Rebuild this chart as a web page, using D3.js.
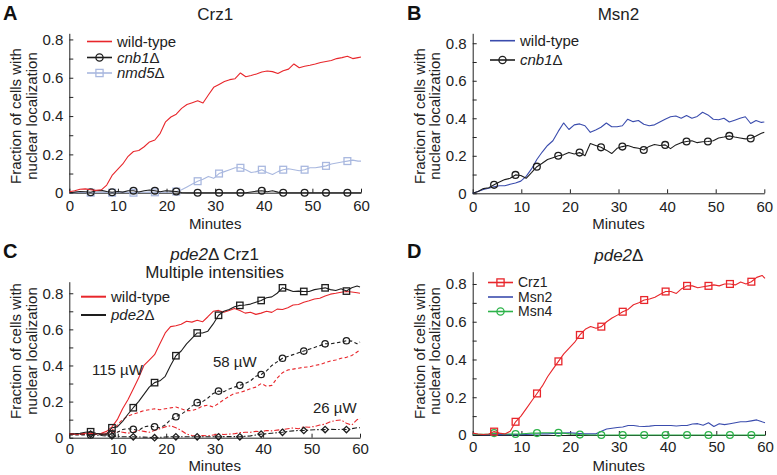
<!DOCTYPE html>
<html>
<head>
<meta charset="utf-8">
<script src="https://cdn.jsdelivr.net/npm/d3@7"></script>
<style>
  html, body { margin: 0; padding: 0; background: #fff; }
  svg { display: block; }
</style>
</head>
<body>
<svg id="chart" width="777" height="475"></svg>
<script>
// ---------- DATA ----------
// time grid (minutes), sampled every 1.1 min, last point at 60
const minutes = [0,1.1,2.2,3.3,4.4,5.5,6.6,7.7,8.8,9.9,11,12.1,13.2,14.3,15.4,16.5,17.6,18.7,19.8,20.9,22,23.1,24.2,25.3,26.4,27.5,28.6,29.7,30.8,31.9,33,34.1,35.2,36.3,37.4,38.5,39.6,40.7,41.8,42.9,44,45.1,46.2,47.3,48.4,49.5,50.6,51.7,52.8,53.9,55,56.1,57.2,58.3,59.4,60];
const xTickValues = [0,10,20,30,40,50,60];
const yTickValues = [0,0.1,0.2,0.3,0.4,0.5,0.6,0.7,0.8];
const yTickLabels = ["0","","0.2","","0.4","","0.6","","0.8"];

// Panel A: Crz1
const aWildType = [0.005,0.01,0.018,0.02, 0.015,0.012,0.015,0.04, 0.09,0.12,0.15,0.19, 0.215,0.22,0.24,0.265, 0.275,0.31,0.37,0.395, 0.41,0.44,0.46,0.47, 0.48,0.468,0.51,0.55, 0.565,0.58,0.59,0.595, 0.625,0.605,0.612,0.62, 0.63,0.635,0.632,0.622, 0.637,0.645,0.672,0.652, 0.66,0.665,0.672,0.68, 0.685,0.69,0.70,0.705, 0.712,0.70,0.705,0.708];
const aCnb1 = [0,0.003,0.006,0.005, 0.002,0.01,0.012,0.006, 0.002,0.006,0.003,0.01, 0.01,0.004,0.01,0.014, 0.01,0.005,0.01,0.008, 0.006,0.001,0,0, 0,0,0,0, 0,0,0,0, 0,0,0.004,0.008, 0.01,0.005,0.01,0.003, 0,0,0,0, 0,0,0,0, 0,0,0,0, 0,0,0,0];
const aNmd5 = [0,0,0.002,0.001, 0,0.002,0.004,0.003, 0,0.002,0.004,0.002, 0,0.003,0.002,0.004, 0.002,0.003,0.002,0.004, 0.006,0.015,0.03,0.045, 0.06,0.07,0.085,0.075, 0.1,0.11,0.12,0.13, 0.13,0.12,0.105,0.11, 0.12,0.105,0.095,0.11, 0.12,0.125,0.12,0.115, 0.12,0.13,0.13,0.135, 0.14,0.15,0.155,0.16, 0.165,0.17,0.165,0.165];

// Panel B: Msn2
const bWildType = [0,0.01,0.02,0.027, 0.035,0.04,0.04,0.048, 0.055,0.065,0.09,0.13, 0.18,0.22,0.255,0.28, 0.33,0.375,0.34,0.365, 0.37,0.36,0.325,0.338, 0.352,0.375,0.355,0.355, 0.36,0.395,0.382,0.388, 0.368,0.36,0.365,0.38, 0.395,0.408,0.412,0.40, 0.415,0.40,0.41,0.432, 0.418,0.395,0.392,0.40, 0.38,0.39,0.40,0.408, 0.372,0.388,0.378,0.38];
const bCnb1 = [0,0.01,0.025,0.03, 0.045,0.06,0.073,0.08, 0.098,0.095,0.08,0.11, 0.142,0.16,0.18,0.19, 0.2,0.205,0.218,0.21, 0.217,0.2,0.265,0.255, 0.245,0.23,0.212,0.24, 0.249,0.255,0.245,0.24, 0.231,0.25,0.26,0.255, 0.258,0.238,0.258,0.27, 0.276,0.28,0.27,0.275, 0.276,0.28,0.295,0.30, 0.306,0.30,0.295,0.29, 0.292,0.305,0.32,0.325];

// Panel C: pde2Δ Crz1, multiple intensities
const cWildType115 = [0.02,0.02,0.022,0.025, 0.025,0.022,0.025,0.035, 0.06,0.1,0.16,0.21, 0.27,0.33,0.40,0.43, 0.46,0.52,0.58,0.615, 0.62,0.628,0.645,0.64, 0.65,0.642,0.67,0.70, 0.705,0.695,0.705,0.715, 0.705,0.69,0.695,0.683, 0.69,0.70,0.694,0.712, 0.71,0.72,0.735,0.738, 0.75,0.758,0.768,0.772, 0.785,0.795,0.80,0.806, 0.81,0.807,0.803,0.80];
const cPde2115 = [0.02,0.022,0.025,0.03, 0.033,0.025,0.02,0.02, 0.055,0.06,0.09,0.13, 0.166,0.2,0.24,0.28, 0.305,0.315,0.34,0.40, 0.454,0.48,0.52,0.55, 0.58,0.58,0.59,0.63, 0.678,0.70,0.71,0.725, 0.733,0.735,0.74,0.75, 0.76,0.775,0.78,0.80, 0.83,0.82,0.81,0.812, 0.81,0.81,0.82,0.825, 0.83,0.82,0.815,0.825, 0.812,0.83,0.84,0.835];
const cWildType58 = [0.02,0.02,0.018,0.02, 0.02,0.018,0.02,0.025, 0.04,0.07,0.1,0.12, 0.13,0.14,0.15,0.155, 0.16,0.155,0.16,0.165, 0.17,0.16,0.15,0.15, 0.16,0.175,0.18,0.17, 0.19,0.21,0.23,0.245, 0.25,0.26,0.272,0.28, 0.30,0.285,0.29,0.33, 0.36,0.375,0.38,0.385, 0.39,0.392,0.40,0.405, 0.415,0.425,0.43,0.44, 0.445,0.455,0.475,0.485];
const cPde258 = [0.015,0.015,0.015,0.015, 0.015,0.02,0.015,0.015, 0.02,0.03,0.045,0.05, 0.046,0.04,0.06,0.065, 0.06,0.055,0.07,0.1, 0.116,0.13,0.15,0.175, 0.194,0.2,0.22,0.245, 0.258,0.255,0.27,0.28, 0.29,0.3,0.315,0.34, 0.35,0.37,0.4,0.42, 0.44,0.45,0.46,0.47, 0.48,0.49,0.5,0.51, 0.52,0.52,0.525,0.53, 0.537,0.535,0.52,0.53];
const cWildType26 = [0.02,0.022,0.02,0.018, 0.02,0.022,0.02,0.02, 0.03,0.035,0.03,0.025, 0.03,0.04,0.035,0.03, 0.04,0.05,0.06,0.066, 0.055,0.04,0.02,0.012, 0.01,0.012,0.01,0.015, 0.02,0.018,0.02,0.022, 0.028,0.03,0.03,0.035, 0.033,0.04,0.038,0.042, 0.045,0.05,0.054,0.05, 0.06,0.058,0.062,0.07, 0.075,0.089,0.095,0.098, 0.08,0.07,0.1,0.108];
const cPde226 = [0.02,0.02,0.02,0.02, 0.02,0.015,0.012,0.01, 0.01,0.008,0.005,0.005, 0.005,0.004,0.003,0.002, 0,0.002,0.004,0.005, 0.005,0.005,0.005,0.005, 0.005,0.005,0.005,0.005, 0.005,0.006,0.006,0.006, 0.005,0.008,0.01,0.015, 0.02,0.022,0.025,0.028, 0.03,0.035,0.038,0.04, 0.04,0.042,0.044,0.045, 0.045,0.046,0.045,0.046, 0.045,0.05,0.055,0.055];

// Panel D: pde2Δ
const dCrz1 = [0.01,0.005,0.003,0.005, 0.018,0.01,0.005,0.02, 0.07,0.1,0.14,0.18, 0.22,0.26,0.31,0.35, 0.39,0.43,0.46,0.49, 0.53,0.56,0.575,0.565, 0.574,0.6,0.62,0.635, 0.653,0.665,0.69,0.70, 0.715,0.72,0.73,0.745, 0.76,0.76,0.75,0.775, 0.79,0.79,0.78,0.785, 0.79,0.795,0.79,0.80, 0.80,0.795,0.81,0.80, 0.812,0.835,0.845,0.83];
const dMsn2 = [0.005,0.003,0.002,0.002, 0.002,0.002,0.003,0.002, 0.002,0.002,0.003,0.004, 0.005,0.006,0.006,0.008, 0.008,0.01,0.012,0.01, 0.008,0.006,0.006,0.006, 0.02,0.032,0.036,0.04, 0.042,0.05,0.05,0.046, 0.045,0.047,0.05,0.05, 0.05,0.05,0.048,0.05, 0.05,0.058,0.06,0.052, 0.065,0.045,0.06,0.055, 0.06,0.065,0.07,0.07, 0.075,0.08,0.07,0.065];
const dMsn4 = [0.005,0.004,0.004,0.005, 0.01,0.008,0.006,0.005, 0.005,0.006,0.008,0.01, 0.01,0.012,0.012,0.012, 0.012,0.01,0.006,0.004, 0.002,0.001,0,0, 0,0,0,0, 0,0,0,0, 0,0,0,0, 0,0,0,0, 0,0,0,0, 0,0,0,0, 0,0,0,0, 0,0,0,0];

// ---------- STYLE ----------
const FONT = "'Liberation Sans', Arial, Helvetica, sans-serif";
const RED = "#e8262b", BLUE = "#3a4cad", GREEN = "#2db34a", LIGHT = "#a9b8df", BLACK = "#1e1e1e";
const AXIS = "#222";

const svg = d3.select("#chart").style("font-family", FONT);
svg.append("rect").attr("width", 777).attr("height", 475).attr("fill", "#fff");

function marker(g, type, cx, cy, color, s) {
  if (type === "circle") {
    g.append("circle").attr("cx", cx).attr("cy", cy).attr("r", s)
      .attr("fill", "none").attr("stroke", color).attr("stroke-width", 1.3);
  } else if (type === "square") {
    g.append("rect").attr("x", cx - s).attr("y", cy - s).attr("width", 2 * s).attr("height", 2 * s)
      .attr("fill", "none").attr("stroke", color).attr("stroke-width", 1.3);
  } else if (type === "diamond") {
    g.append("path").attr("d", `M${cx},${cy - s}L${cx + s},${cy}L${cx},${cy + s}L${cx - s},${cy}Z`)
      .attr("fill", "none").attr("stroke", color).attr("stroke-width", 1.3);
  }
}

function drawPanel(p) {
  const g = svg.append("g");
  const x = d3.scaleLinear().domain([0, 60]).range([p.x0, p.x1]);
  const y = d3.scaleLinear().domain([0, p.ymax]).range([p.y0, p.ytop]);

  const gx = g.append("g").attr("transform", `translate(0,${p.y0})`)
    .call(d3.axisBottom(x).tickValues(xTickValues).tickSizeInner(-4).tickSizeOuter(0)
      .tickPadding(p.xpad).tickFormat(d3.format("d")));
  const gy = g.append("g").attr("transform", `translate(${p.x0},0)`)
    .call(d3.axisLeft(y).tickValues(yTickValues).tickSizeInner(-4).tickSizeOuter(0)
      .tickPadding(6).tickFormat((d, i) => yTickLabels[i]));
  [gx, gy].forEach(a => {
    a.select(".domain").attr("stroke", AXIS);
    a.selectAll(".tick line").attr("stroke", AXIS);
    a.selectAll("text").attr("fill", "#222").style("font-size", "15px").style("font-family", FONT);
  });

  // axis titles
  g.append("text").attr("x", (p.x0 + p.x1) / 2).attr("y", p.xlabelY)
    .attr("text-anchor", "middle").attr("fill", "#222").style("font-size", "15px").text("Minutes");
  const yl = g.append("g").attr("transform", `translate(${p.x0 - 48},${p.ylabelC}) rotate(-90)`);
  yl.append("text").attr("x", 0).attr("y", 0).attr("text-anchor", "middle").attr("fill", "#222")
    .style("font-size", "15px").text("Fraction of cells with");
  yl.append("text").attr("x", 0).attr("y", 15.5).attr("text-anchor", "middle").attr("fill", "#222")
    .style("font-size", "15px").text("nuclear localization");

  // series
  const line = d3.line().x((d, i) => x(minutes[i])).y(d => y(d));
  p.series.forEach(s => {
    g.append("path").datum(s.values).attr("d", line).attr("fill", "none")
      .attr("stroke", s.color).attr("stroke-width", s.width || 1.1)
      .attr("stroke-dasharray", s.dash || null).attr("stroke-linejoin", "round");
    if (s.marker) {
      s.values.forEach((v, i) => {
        if (i > 0 && i < 55 && i % 4 === 0) marker(g, s.marker, x(minutes[i]), y(v), s.mcolor || s.color, p.msize);
      });
    }
  });

  // legend
  p.legend.forEach((l, k) => {
    const ly = p.legY[k];
    g.append("line").attr("x1", p.legX).attr("x2", p.legX + 25).attr("y1", ly).attr("y2", ly)
      .attr("stroke", l.color).attr("stroke-width", l.lw || 1.6);
    if (l.marker) marker(g, l.marker, p.legX + 12.5, ly, l.color, 3.6);
    const t = g.append("text").attr("x", p.legX + 30).attr("y", ly).attr("dy", "0.35em")
      .attr("fill", "#222").style("font-size", (p.legFont || 15) + "px");
    l.label.forEach(part => t.append("tspan").style("font-style", part[1] ? "italic" : "normal").text(part[0]));
  });

  // panel letter
  g.append("text").attr("x", p.letterX).attr("y", p.letterY).attr("fill", "#111")
    .style("font-size", "20px").style("font-weight", "bold").text(p.letter);
  // title
  p.title.forEach(tl => {
    const t = g.append("text").attr("x", (p.x0 + p.x1) / 2).attr("y", tl.y).attr("text-anchor", "middle")
      .attr("fill", "#222").style("font-size", "17px");
    tl.parts.forEach(part => t.append("tspan").style("font-style", part[1] ? "italic" : "normal").text(part[0]));
  });
  (p.notes || []).forEach(n => {
    g.append("text").attr("x", n.x).attr("y", n.y).attr("fill", "#222").style("font-size", "15px").text(n.text);
  });
}

drawPanel({
  letter: "A", letterX: 3, letterY: 20,
  title: [{ y: 20, parts: [["Crz1", false]] }],
  x0: 69.3, x1: 361, y0: 192.7, ytop: 33.3, ymax: 0.832, xpad: 8, xlabelY: 229, ylabelC: 116, msize: 3.4,
  series: [
    { values: aNmd5, color: LIGHT, marker: "square" },
    { values: aCnb1, color: BLACK, marker: "circle" },
    { values: aWildType, color: RED }
  ],
  legX: 87, legY: [41.5, 57.5, 73],
  legend: [
    { color: RED, label: [["wild-type", false]] },
    { color: BLACK, marker: "circle", label: [["cnb1", true], ["Δ", false]] },
    { color: LIGHT, marker: "square", label: [["nmd5", true], ["Δ", false]] }
  ]
});

drawPanel({
  letter: "B", letterX: 407, letterY: 20,
  title: [{ y: 20, parts: [["Msn2", false]] }],
  x0: 472.7, x1: 764.3, y0: 193.3, ytop: 33.3, ymax: 0.853, xpad: 8, xlabelY: 229, ylabelC: 116, msize: 3.4,
  series: [
    { values: bWildType, color: BLUE },
    { values: bCnb1, color: BLACK, marker: "circle" }
  ],
  legX: 490, legY: [40.7, 60],
  legend: [
    { color: BLUE, label: [["wild-type", false]] },
    { color: BLACK, marker: "circle", label: [["cnb1", true], ["Δ", false]] }
  ]
});

drawPanel({
  letter: "C", letterX: 3, letterY: 258,
  title: [{ y: 260, parts: [["pde2", true], ["Δ Crz1", false]] }, { y: 278, parts: [["Multiple intensities", false]] }],
  x0: 69.3, x1: 360, y0: 437.7, ytop: 281.7, ymax: 0.864, xpad: 6, xlabelY: 471, ylabelC: 351, msize: 3.2,
  series: [
    { values: cWildType26, color: RED, dash: "5,2,1.5,2" },
    { values: cPde226, color: BLACK, dash: "5,2,1.5,2", marker: "diamond" },
    { values: cWildType58, color: RED, dash: "3.5,2.5" },
    { values: cPde258, color: BLACK, dash: "3.5,2.5", marker: "circle" },
    { values: cWildType115, color: RED },
    { values: cPde2115, color: BLACK, marker: "square" }
  ],
  legX: 81, legY: [296.7, 315],
  legend: [
    { color: RED, lw: 2, label: [["wild-type", false]] },
    { color: BLACK, lw: 2, label: [["pde2", true], ["Δ", false]] }
  ],
  notes: [
    { x: 92, y: 375, text: "115 µW" },
    { x: 213, y: 366.7, text: "58 µW" },
    { x: 313, y: 413.3, text: "26 µW" }
  ]
});

drawPanel({
  letter: "D", letterX: 407, letterY: 258,
  title: [{ y: 261, parts: [["pde2", true], ["Δ", false]] }],
  x0: 472.7, x1: 765, y0: 435, ytop: 271.7, ymax: 0.865, xpad: 6, xlabelY: 471, ylabelC: 351, msize: 3.4,
  series: [
    { values: dMsn2, color: BLUE },
    { values: dMsn4, color: GREEN, marker: "circle" },
    { values: dCrz1, color: RED, marker: "square" }
  ],
  legX: 488, legY: [282.5, 297, 311.5], legFont: 14,
  legend: [
    { color: RED, marker: "square", label: [["Crz1", false]] },
    { color: BLUE, label: [["Msn2", false]] },
    { color: GREEN, marker: "circle", label: [["Msn4", false]] }
  ]
});
</script>
</body>
</html>
